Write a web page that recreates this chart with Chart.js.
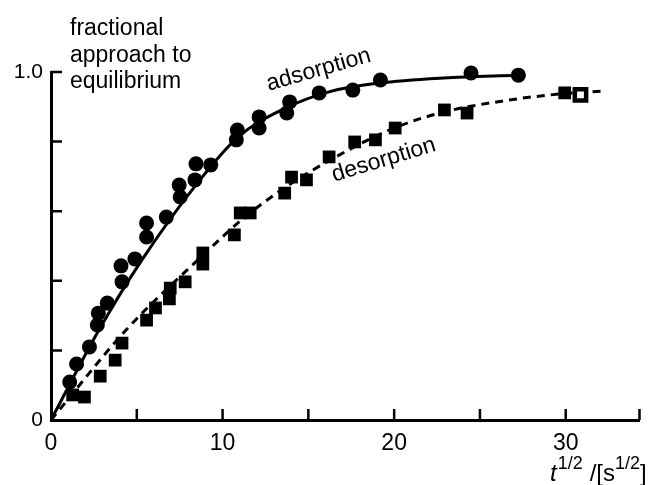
<!DOCTYPE html>
<html>
<head>
<meta charset="utf-8">
<script src="https://cdn.jsdelivr.net/npm/chart.js@4.4.0/dist/chart.umd.min.js"></script>
<style>
  html, body { margin: 0; padding: 0; background: #fff; }
</style>
</head>
<body>
<canvas id="chart" width="652" height="485"></canvas>
<script>
// adsorption measurements (filled circles)
const adsX = [1.09, 1.49, 2.24, 2.70, 2.76, 3.28, 4.14, 4.08, 4.89, 5.57, 5.57, 6.72, 7.53, 7.47, 8.39, 8.45, 9.31, 10.80, 10.86, 12.13, 12.13, 13.74, 13.91, 15.63, 17.59, 19.20, 24.48, 27.24];
const adsY = [0.109, 0.161, 0.210, 0.273, 0.307, 0.336, 0.397, 0.443, 0.463, 0.526, 0.566, 0.583, 0.641, 0.675, 0.690, 0.736, 0.733, 0.805, 0.833, 0.839, 0.871, 0.882, 0.914, 0.940, 0.948, 0.977, 0.997, 0.991];

// desorption measurements (filled squares)
const desX = [1.26, 1.95, 2.87, 3.74, 4.14, 5.57, 6.09, 6.90, 6.95, 7.82, 8.85, 8.85, 10.69, 11.03, 11.61, 13.62, 14.02, 14.89, 16.21, 17.70, 18.91, 20.06, 22.93, 24.25, 29.94];
const desY = [0.072, 0.066, 0.126, 0.172, 0.221, 0.287, 0.322, 0.348, 0.379, 0.397, 0.448, 0.480, 0.532, 0.595, 0.595, 0.652, 0.698, 0.690, 0.756, 0.799, 0.805, 0.839, 0.891, 0.882, 0.940];
// last desorption point is drawn open
const desOpenX = [30.86];
const desOpenY = [0.934];

// drawn curves
const adsFitX = [0, 2.8, 5.3, 8.6, 10.9, 13.7, 16.2, 19.1, 22.9, 27.2];
const adsFitY = [0, 0.259, 0.46, 0.685, 0.813, 0.897, 0.943, 0.968, 0.983, 0.991];
const desFitX = [0, 4.4, 9.0, 11.1, 13.7, 16.6, 20.0, 22.9, 26.5, 29.9, 32.1];
const desFitY = [0, 0.26, 0.48, 0.575, 0.67, 0.756, 0.839, 0.885, 0.918, 0.938, 0.945];

// ticks
const xTicks = [5, 10, 15, 20, 25, 30, 34.3];
const xTickLabels = [0, 10, 20, 30];
const yTicks = [0.2, 0.4, 0.6, 0.8, 1.0];
const yTickLabels = ['0', '1.0'];

const FONT = '"Liberation Sans", Arial, Helvetica, sans-serif';

const pts = (xs, ys) => xs.map((v, i) => ({ x: v, y: ys[i] }));

// tick marks pointing inwards, labels and annotations
const decor = {
  id: 'decor',
  afterDraw(chart) {
    const { ctx, scales: { x, y } } = chart;
    const x0 = x.getPixelForValue(0);
    const y0 = y.getPixelForValue(0);
    ctx.save();
    ctx.strokeStyle = '#000';
    ctx.fillStyle = '#000';
    ctx.lineWidth = 2.5;
    ctx.beginPath();
    xTicks.forEach(v => {
      const px = x.getPixelForValue(v);
      ctx.moveTo(px, y0);
      ctx.lineTo(px, y0 - 11);
    });
    yTicks.forEach(v => {
      const py = y.getPixelForValue(v);
      ctx.moveTo(x0, py);
      ctx.lineTo(x0 + 11, py);
    });
    ctx.stroke();

    // x tick labels
    ctx.font = '23px ' + FONT;
    ctx.textAlign = 'center';
    ctx.textBaseline = 'alphabetic';
    xTickLabels.forEach(v => ctx.fillText(String(v), x.getPixelForValue(v), y0 + 30));

    // y tick labels
    ctx.font = '21px ' + FONT;
    ctx.textAlign = 'right';
    ctx.textBaseline = 'middle';
    ctx.fillText(yTickLabels[0], x0 - 8, y0);
    ctx.fillText(yTickLabels[1], x0 - 8, y.getPixelForValue(1.0));

    // y axis title
    ctx.font = '23px ' + FONT;
    ctx.textAlign = 'left';
    ctx.textBaseline = 'alphabetic';
    ['fractional', 'approach to', 'equilibrium'].forEach((s, i) => ctx.fillText(s, 70, 35 + i * 26.5));

    // x axis title: t^1/2 /[s^1/2]
    let cx = 550;
    const base = 481;
    ctx.font = 'italic 24px ' + FONT;
    ctx.fillText('t', cx, base);
    cx += ctx.measureText('t').width + 1;
    ctx.font = '18px ' + FONT;
    ctx.fillText('1/2', cx, base - 12);
    cx += ctx.measureText('1/2').width + 7;
    ctx.font = '24px ' + FONT;
    ctx.fillText('/[s', cx, base);
    cx += ctx.measureText('/[s').width;
    ctx.font = '18px ' + FONT;
    ctx.fillText('1/2', cx, base - 12);
    cx += ctx.measureText('1/2').width;
    ctx.font = '24px ' + FONT;
    ctx.fillText(']', cx, base);

    // curve labels
    const label = (text, vx, vy, deg) => {
      ctx.save();
      ctx.translate(x.getPixelForValue(vx), y.getPixelForValue(vy));
      ctx.rotate(deg * Math.PI / 180);
      ctx.font = '23px ' + FONT;
      ctx.textAlign = 'center';
      ctx.textBaseline = 'middle';
      ctx.fillText(text, 0, 0);
      ctx.restore();
    };
    label('adsorption', 15.6, 1.006, -16);
    label('desorption', 19.4, 0.747, -17);
    ctx.restore();
  }
};

new Chart(document.getElementById('chart'), {
  type: 'scatter',
  data: {
    datasets: [
      {
        label: 'adsorption',
        data: pts(adsX, adsY),
        pointStyle: 'circle',
        pointRadius: 7.5,
        backgroundColor: '#000',
        borderWidth: 0,
        clip: false,
        order: 1
      },
      {
        label: 'desorption',
        data: pts(desX, desY),
        pointStyle: 'rect',
        pointRadius: 9,
        backgroundColor: '#000',
        borderWidth: 0,
        clip: false,
        order: 1
      },
      {
        label: 'desorption (open)',
        data: pts(desOpenX, desOpenY),
        pointStyle: 'rect',
        pointRadius: 8,
        backgroundColor: '#fff',
        borderColor: '#000',
        borderWidth: 4.5,
        clip: false,
        order: 1
      },
      {
        type: 'line',
        data: pts(adsFitX, adsFitY),
        borderColor: '#000',
        borderWidth: 3,
        pointRadius: 0,
        cubicInterpolationMode: 'monotone',
        clip: false,
        order: 2
      },
      {
        type: 'line',
        data: pts(desFitX, desFitY),
        borderColor: '#000',
        borderWidth: 3,
        borderDash: [8, 6],
        pointRadius: 0,
        cubicInterpolationMode: 'monotone',
        clip: false,
        order: 2
      }
    ]
  },
  options: {
    responsive: false,
    animation: false,
    layout: { padding: { left: 51, right: 5, top: 72, bottom: 65 } },
    plugins: { legend: { display: false }, tooltip: { enabled: false } },
    scales: {
      x: {
        type: 'linear',
        min: 0,
        max: 34.3,
        grid: { display: false, drawTicks: false },
        border: { display: true, width: 3, color: '#000' },
        ticks: { display: false },
        afterFit: s => { s.height = 0; }
      },
      y: {
        type: 'linear',
        min: 0,
        max: 1,
        grid: { display: false, drawTicks: false },
        border: { display: true, width: 3, color: '#000' },
        ticks: { display: false },
        afterFit: s => { s.width = 0; }
      }
    }
  },
  plugins: [decor]
});
</script>
</body>
</html>
